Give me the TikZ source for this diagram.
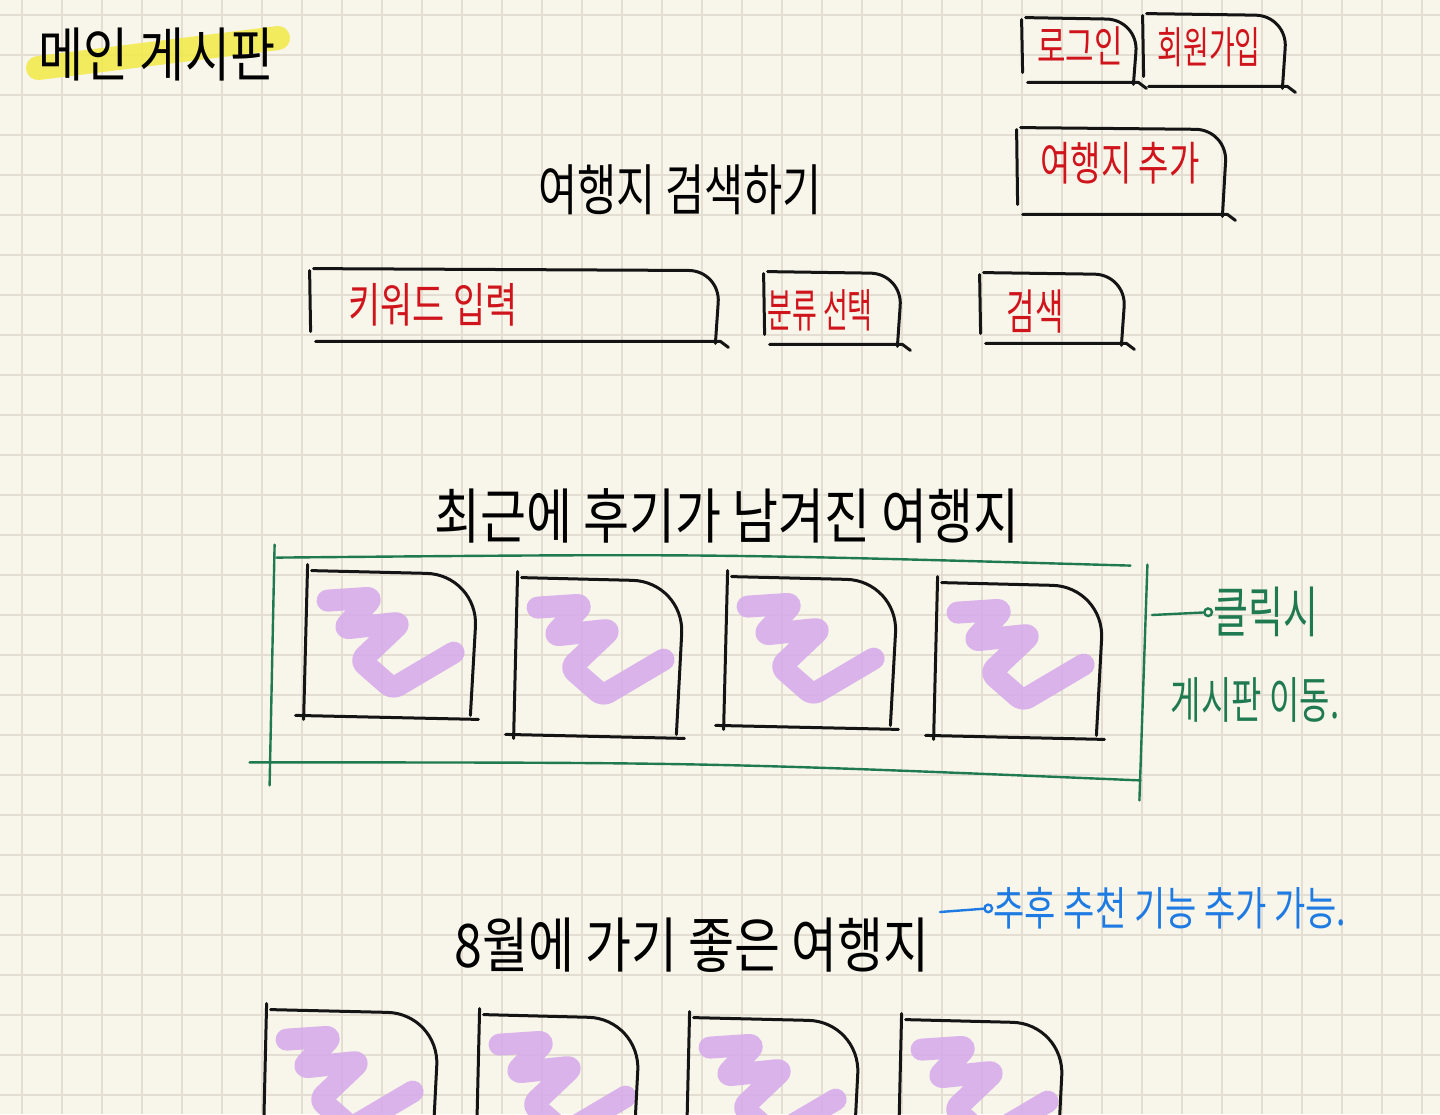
\documentclass[tikz,border=0pt]{standalone}
\usepackage{fontspec}
\usepackage{graphicx}
\newfontfamily\kr{Noto Sans CJK KR}
\usetikzlibrary{calc,arrows.meta}
\definecolor{paper}{HTML}{F8F5EA}
\definecolor{gridc}{HTML}{E3DED1}
\definecolor{inkred}{HTML}{D0141C}
\definecolor{inkgreen}{HTML}{1F7A52}
\definecolor{inkblue}{HTML}{1E7BE3}
\definecolor{lilac}{HTML}{D6ACEA}
\definecolor{hilite}{HTML}{F2EA45}
\newcommand\hw[2][1.35]{\scalebox{1}[#1]{#2}}
\newcommand\fs[1]{\fontsize{#1}{#1}\selectfont}
\tikzset{
  ink/.style={draw=black!92, line width=1.5pt, line cap=round, line join=round},
  gink/.style={draw=inkgreen, line width=1.2pt, line cap=round},
  squig/.style={draw=lilac, line width=11pt, line cap=round, line join=round, rounded corners=3, opacity=0.9},
  frame/.style={draw=none, inner sep=0pt},
  hwtext/.style={inner sep=0pt, font=\kr},
  redtext/.style={hwtext, text=inkred},
}
\newcommand\skbox[1]{%
  \draw[ink] ($(#1.north west)+(0,2)$) -- ($(#1.south west)+(1,-10)$);
  \draw[ink, rounded corners=16] ($(#1.north west)+(4,0)$) -- ($(#1.north east)+(0,2)$) -- ($(#1.south east)+(-5,2)$);
  \draw[ink] ($(#1.south west)+(6,0)$) -- ($(#1.south east)+(0,0)$) -- ($(#1.south east)+(8,6)$);
}
\newcommand\sktile[1]{%
  \draw[squig] ($(#1.north west)+(22,30)$) -- ++(45,-3) -- ++(-29,31) -- ++(57,-6) -- ++(-40,38) -- ++(32,28) -- ++(61,-36);
  \draw[ink] ($(#1.north west)+(2,-6)$) -- ($(#1.south west)+(-2,4)$);
  \draw[ink, rounded corners=26] ($(#1.north west)+(6,0)$) -- ($(#1.north east)+(0,4)$) -- ($(#1.south east)+(-8,0)$);
  \draw[ink] ($(#1.south west)+(-10,0)$) -- ($(#1.south east)+(0,4)$);
}
\begin{document}
\begin{tikzpicture}[x=0.5pt,y=-0.5pt]
\useasboundingbox (0,0) rectangle (1440,1114);
\fill[paper] (0,0) rectangle (1440,1114);
\clip (0,0) rectangle (1440,1114);
\foreach \i in {0,...,35} \draw[gridc, line width=1pt] (21.7+40*\i,0) -- (21.7+40*\i,1114);
\foreach \j in {0,...,27} \draw[gridc, line width=1pt] (0,15+40*\j) -- (1440,15+40*\j);

% title
\coordinate (hlA) at (38,68);
\coordinate (hlB) at (278,38);
\draw[hilite, line width=12pt, line cap=round, opacity=0.85] (hlA) -- (hlB);
\node[hwtext, font=\kr\fs{24.5}] (main) at (157,55) {\hw[1.2]{메인 게시판}};

% top right buttons
\node[frame, minimum width=58pt, minimum height=32pt] (login) at (1080,50) {};
\node[redtext, font=\kr\fs{15.5}] (logint) at (1080,46) {\hw[1.4]{로그인}};
\skbox{login}
\node[frame, minimum width=72pt, minimum height=36pt] (signup) at (1215,50) {};
\node[redtext, font=\kr\fs{14}] (signupt) at (1209,47) {\hw[1.55]{회원가입}};
\skbox{signup}
\node[frame, minimum width=105pt, minimum height=43pt] (addp) at (1122,171) {};
\node[redtext, font=\kr\fs{16.5}] (addpt) at (1120,163) {\hw[1.4]{여행지 추가}};
\skbox{addp}

% search
\node[hwtext, font=\kr\fs{21.3}] (stitle) at (680,190) {\hw[1.3]{여행지 검색하기}};
\node[frame, minimum width=205pt, minimum height=36pt] (kw) at (515,305) {};
\node[redtext, font=\kr\fs{17.5}] (kwt) at (433,305) {\hw[1.35]{키워드 입력}};
\skbox{kw}
\node[frame, minimum width=69pt, minimum height=36pt] (cat) at (833,308) {};
\node[redtext, font=\kr\fs{13.5}] (catt) at (820,310) {\hw[1.7]{분류 선택}};
\skbox{cat}
\node[frame, minimum width=73pt, minimum height=35pt] (srch) at (1053,308) {};
\node[redtext, font=\kr\fs{15.5}] (srcht) at (1035,312) {\hw[1.55]{검색}};
\skbox{srch}

% recent reviews
\node[hwtext, font=\kr\fs{25}] (recent) at (727,516) {\hw[1.2]{최근에 후기가 남겨진 여행지}};
\node[frame, minimum width=436.5pt, minimum height=105pt] (gframe) at (708.5,665) {};
\draw[gink] ($(gframe.north west)+(5,-2)$) .. controls ($(gframe.north)+(0,-6)$) .. ($(gframe.north east)+(-15,6)$);
\draw[gink] ($(gframe.north west)+(3,-15)$) -- ($(gframe.south west)+(-2,15)$);
\draw[gink] ($(gframe.south west)+(-22,-8)$) .. controls ($(gframe.south)+(0,-8)$) .. ($(gframe.south east)+(-5,10)$);
\draw[gink] ($(gframe.north east)+(2,5)$) -- ($(gframe.south east)+(-6,30)$);

\node[frame, minimum width=86pt, minimum height=72pt] (t1) at (392,643) {};
\node[frame, minimum width=84pt, minimum height=78pt] (t2) at (600,656) {};
\node[frame, minimum width=86pt, minimum height=74pt] (t3) at (812,651) {};
\node[frame, minimum width=84pt, minimum height=76pt] (t4) at (1020,659) {};
\sktile{t1}\sktile{t2}\sktile{t3}\sktile{t4}

\node[hwtext, text=inkgreen, font=\kr\fs{19}] (note1) at (1266,612) {\hw[1.45]{클릭시}};
\node[hwtext, text=inkgreen, font=\kr\fs{16.5}] (note2) at (1255,700) {\hw[1.5]{게시판 이동.}};
\coordinate (gstart) at (1152,615);
\draw[gink, -{Circle[open,length=5pt]}] (gstart) -- (note1.west);

% august
\node[hwtext, font=\kr\fs{25}] (aug) at (692,945) {\hw[1.2]{8월에 가기 좋은 여행지}};
\node[hwtext, text=inkblue, font=\kr\fs{17}] (bnote) at (1170,908) {\hw[1.35]{추후 추천 기능 추가 가능.}};
\coordinate (bstart) at (940,912);
\draw[draw=inkblue, line width=1.2pt, line cap=round, -{Circle[open,length=5pt]}] (bstart) -- (bnote.west);

\node[frame, minimum width=87pt, minimum height=80pt] (b1) at (352,1090) {};
\node[frame, minimum width=81pt, minimum height=80pt] (b2) at (559,1095) {};
\node[frame, minimum width=86pt, minimum height=80pt] (b3) at (774,1098) {};
\node[frame, minimum width=82pt, minimum height=80pt] (b4) at (982,1100) {};
\sktile{b1}\sktile{b2}\sktile{b3}\sktile{b4}
\end{tikzpicture}
\end{document}
